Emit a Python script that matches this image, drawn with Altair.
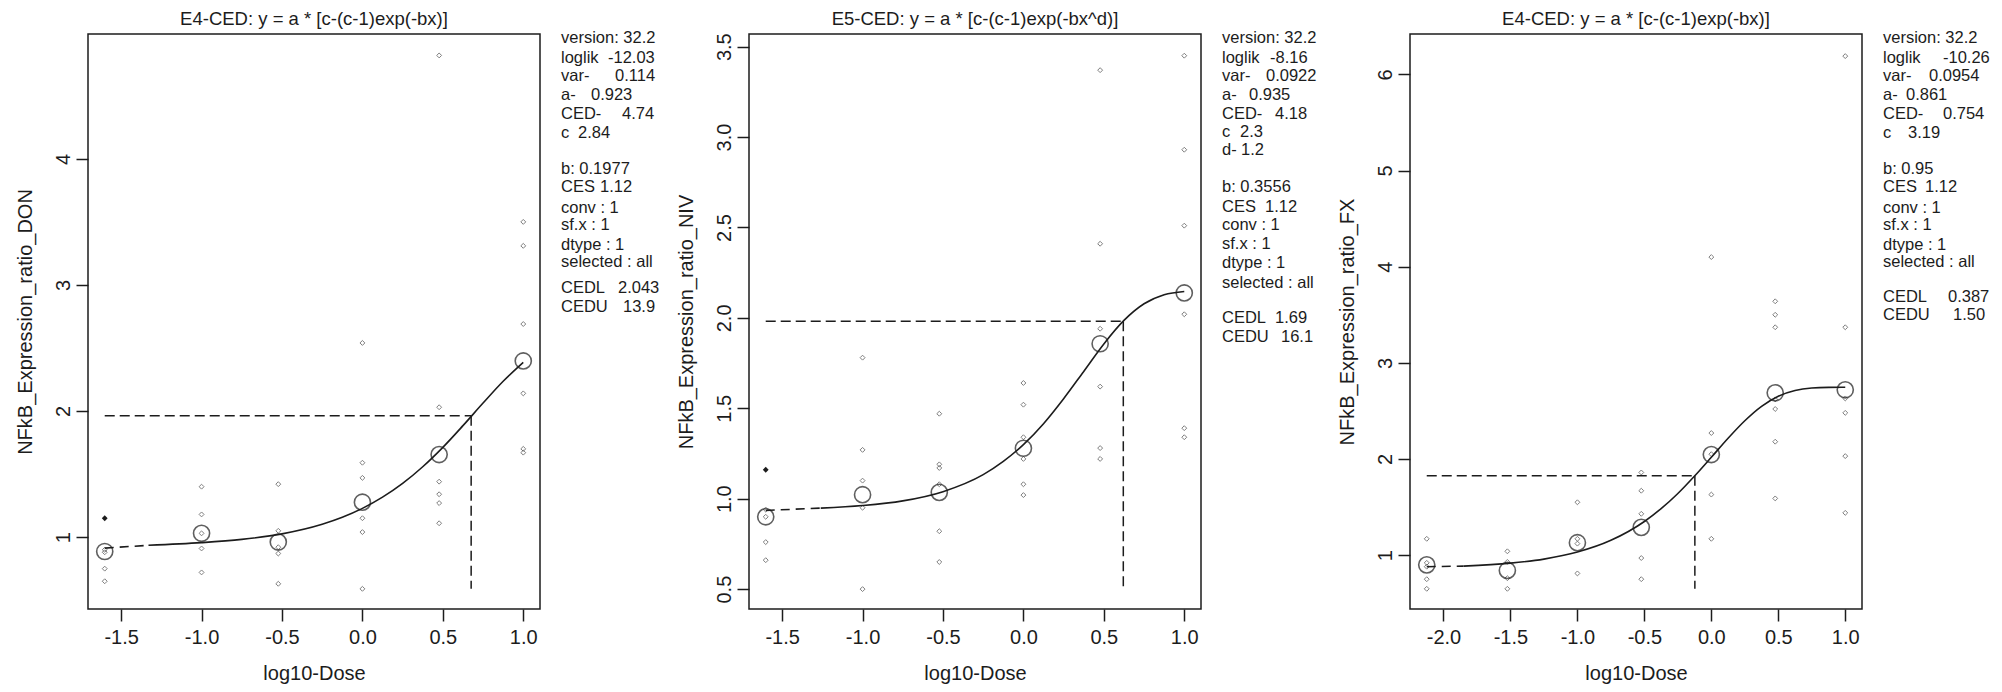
import altair as alt
import pandas as pd

FONT = "Liberation Sans"
INK = "#1c1c1c"
GREY = "#4a4a4a"
W = 452
H = 575

# ---------------- Panel 1: DON (E4-CED) ----------------
don_title = "E4-CED: y = a * [c-(c-1)exp(-bx)]"
don_doses = [-1.602, -1.0, -0.523, 0.0, 0.477, 1.0]
don_obs = [
    [0.90, 0.88, 0.75, 0.65],
    [1.40, 1.18, 1.03, 0.91, 0.72],
    [1.42, 1.05, 0.92, 0.87, 0.63],
    [2.54, 1.59, 1.47, 1.15, 1.04, 0.59],
    [4.82, 2.03, 1.44, 1.34, 1.27, 1.11],
    [3.50, 3.31, 2.69, 2.14, 1.70, 1.67],
]
don_means = [0.886, 1.030, 0.961, 1.277, 1.655, 2.397]
don_dark_x = [-1.602]
don_dark_y = [1.15]
don_dash_x = [-1.602, -1.33]
don_dash_y = [0.913, 0.935]
don_curve_x = [-1.33, -1.0, -0.75, -0.5, -0.25, -0.125, 0.0, 0.125, 0.25, 0.375, 0.5, 0.625, 0.75, 0.875, 1.0]
don_curve_y = [0.935, 0.956, 0.982, 1.026, 1.102, 1.157, 1.228, 1.317, 1.426, 1.558, 1.712, 1.884, 2.063, 2.236, 2.386]
don_ced = 0.676
don_ced_y = 1.962
don_ced_bottom = 0.59
don_info = [
    ("version: 32.2", "", 0), ("loglik", "-12.03", 47), ("var-", "0.114", 54),
    ("a-", "0.923", 30), ("CED-", "4.74", 61), ("c", "2.84", 17),
    ("b: 0.1977", "", 0), ("CES", "1.12", 39), ("conv : 1", "", 0),
    ("sf.x : 1", "", 0), ("dtype : 1", "", 0), ("selected : all", "", 0),
    ("CEDL", "2.043", 57), ("CEDU", "13.96", 62),
]
don_info_y = [37, 56.5, 75, 93.6, 112.6, 131.6, 167.8, 185.9, 206.6, 224.3, 243.7, 261.4, 287, 305.5]

# ---------------- Panel 2: NIV (E5-CED) ----------------
niv_title = "E5-CED: y = a * [c-(c-1)exp(-bx^d)]"
niv_doses = [-1.602, -1.0, -0.523, 0.0, 0.477, 1.0]
niv_obs = [
    [0.94, 0.90, 0.76, 0.66],
    [1.78, 1.27, 1.10, 0.95, 0.50],
    [1.47, 1.19, 1.17, 1.08, 0.82, 0.65],
    [1.64, 1.52, 1.34, 1.22, 1.08, 1.02],
    [3.37, 2.41, 1.94, 1.62, 1.28, 1.22],
    [3.45, 2.93, 2.51, 2.02, 1.39, 1.34],
]
niv_means = [0.900, 1.022, 1.035, 1.279, 1.857, 2.138]
niv_dark_x = [-1.602]
niv_dark_y = [1.16]
niv_dash_x = [-1.602, -1.26]
niv_dash_y = [0.935, 0.948]
niv_curve_x = [-1.26, -1.0, -0.75, -0.5, -0.25, -0.125, 0.0, 0.125, 0.25, 0.375, 0.5, 0.625, 0.75, 0.875, 1.0]
niv_curve_y = [0.948, 0.962, 0.988, 1.039, 1.133, 1.206, 1.299, 1.415, 1.553, 1.704, 1.856, 1.986, 2.078, 2.128, 2.146]
niv_ced = 0.621
niv_ced_y = 1.982
niv_ced_bottom = 0.50
niv_info = [
    ("version: 32.2", "", 0), ("loglik", "-8.16", 48), ("var-", "0.0922", 44),
    ("a-", "0.935", 27), ("CED-", "4.18", 53), ("c", "2.3", 18), ("d-", "1.2", 19),
    ("b: 0.3556", "", 0), ("CES", "1.12", 43), ("conv : 1", "", 0),
    ("sf.x : 1", "", 0), ("dtype : 1", "", 0), ("selected : all", "", 0),
    ("CEDL", "1.69", 53), ("CEDU", "16.19", 59),
]
niv_info_y = [37, 56.5, 75, 93.6, 112.6, 131, 149, 186, 206, 224, 243, 262, 282, 317, 336]

# ---------------- Panel 3: FX (E4-CED) ----------------
fx_title = "E4-CED: y = a * [c-(c-1)exp(-bx)]"
fx_doses = [-2.125, -1.523, -1.0, -0.523, 0.0, 0.477, 1.0]
fx_obs = [
    [1.17, 0.92, 0.88, 0.75, 0.65],
    [1.04, 0.93, 0.76, 0.65],
    [1.55, 1.17, 1.12, 0.81],
    [1.86, 1.67, 1.43, 0.97, 0.75],
    [4.10, 2.27, 2.05, 1.63, 1.17],
    [3.64, 3.50, 3.37, 2.62, 2.52, 2.18, 1.59],
    [6.19, 3.37, 2.63, 2.48, 2.03, 1.44],
]
fx_means = [0.899, 0.841, 1.130, 1.289, 2.046, 2.688, 2.720]
fx_dark_x = []
fx_dark_y = []
fx_dash_x = [-2.125, -1.85]
fx_dash_y = [0.880, 0.886]
fx_curve_x = [-1.85, -1.5, -1.25, -1.0, -0.75, -0.5, -0.375, -0.25, -0.125, 0.0, 0.125, 0.25, 0.375, 0.5, 0.625, 0.75, 0.875, 1.0]
fx_curve_y = [0.886, 0.917, 0.959, 1.032, 1.154, 1.350, 1.483, 1.641, 1.823, 2.018, 2.216, 2.398, 2.548, 2.653, 2.712, 2.738, 2.745, 2.746]
fx_ced = -0.123
fx_ced_y = 1.825
fx_ced_bottom = 0.65
fx_info = [
    ("version: 32.2", "", 0), ("loglik", "-10.26", 60), ("var-", "0.0954", 46),
    ("a-", "0.861", 23), ("CED-", "0.754", 60), ("c", "3.19", 25),
    ("b: 0.95", "", 0), ("CES", "1.12", 42), ("conv : 1", "", 0),
    ("sf.x : 1", "", 0), ("dtype : 1", "", 0), ("selected : all", "", 0),
    ("CEDL", "0.387", 65), ("CEDU", "1.505", 70),
]
fx_info_y = [37, 56.5, 75, 93.6, 112.6, 131.6, 167.8, 186, 207, 224.3, 243.7, 261.4, 296, 314]

TOP = 33  # page y of plot top
CUT = "\u200b"


def minus_expr(fmt):
    return ("datum.value < 0 ? '-' + format(-datum.value, '%s') : format(datum.value, '%s')" % (fmt, fmt))


def panel(title, ytitle, xdom, ydom, xticks, yticks, xfmt, yfmt,
          doses, obs, means, dark_x, dark_y, dash_x, dash_y, curve_x, curve_y,
          ced, ced_y, ced_bottom, info, info_y, text_limit):
    xs = alt.Scale(domain=xdom, nice=False, zero=False)
    ys = alt.Scale(domain=ydom, nice=False, zero=False)

    xaxis = alt.Axis(values=xticks, labelExpr=minus_expr(xfmt), title="log10-Dose",
                     grid=False, domain=False, tickSize=12, tickWidth=1.5, tickColor=INK,
                     labelFont=FONT, labelFontSize=20, labelColor=INK, labelPadding=6,
                     labelFlush=False, labelOverlap=False,
                     titleFont=FONT, titleFontSize=20, titleFontWeight="normal", titleColor=INK,
                     titleX=W / 2, titleY=70, titleBaseline="alphabetic", titleAlign="center")
    yaxis = alt.Axis(values=yticks, labelExpr=minus_expr(yfmt), title=ytitle,
                     grid=False, domain=False, tickSize=12, tickWidth=1.5, tickColor=INK,
                     labelFont=FONT, labelFontSize=20, labelColor=INK, labelPadding=7,
                     labelAngle=270, labelAlign="center", labelBaseline="alphabetic",
                     labelFlush=False, labelOverlap=False,
                     titleFont=FONT, titleFontSize=20, titleFontWeight="normal", titleColor=INK,
                     titleX=-57, titleY=H / 2, titleAngle=270, titleBaseline="alphabetic",
                     titleAlign="center")

    def X(field):
        return alt.X(field, type="quantitative", scale=xs, axis=xaxis)

    def Y(field):
        return alt.Y(field, type="quantitative", scale=ys, axis=yaxis)

    ox, oy = [], []
    for d, vals in zip(doses, obs):
        for v in vals:
            ox.append(d)
            oy.append(v)
    obs_df = pd.DataFrame({"x": ox, "y": oy})

    layers = []
    layers.append(alt.Chart(obs_df).mark_point(shape="diamond", size=24, filled=False,
                                               color=GREY, strokeWidth=1).encode(x=X("x"), y=Y("y")))
    mean_df = pd.DataFrame({"x": doses, "y": means})
    layers.append(alt.Chart(mean_df).mark_point(shape="circle", size=260, filled=False,
                                                color=INK, strokeWidth=1.6).encode(x=X("x"), y=Y("y")))
    if dark_x:
        dark_df = pd.DataFrame({"x": dark_x, "y": dark_y})
        layers.append(alt.Chart(dark_df).mark_point(shape="diamond", size=34, filled=True,
                                                    color=INK, opacity=1).encode(x=X("x"), y=Y("y")))
    dash_df = pd.DataFrame({"x": dash_x, "y": dash_y})
    layers.append(alt.Chart(dash_df).mark_line(color=INK, strokeWidth=1.6, strokeDash=[9, 6]).encode(
        x=X("x"), y=Y("y")))
    curve_df = pd.DataFrame({"x": curve_x, "y": curve_y})
    layers.append(alt.Chart(curve_df).mark_line(color=INK, strokeWidth=1.6,
                                                interpolate="monotone").encode(x=X("x"), y=Y("y")))
    ced_df = pd.DataFrame({"x1": [doses[0], ced], "x2": [ced, ced],
                           "y1": [ced_y, ced_y], "y2": [ced_y, ced_bottom]})
    layers.append(alt.Chart(ced_df).mark_rule(color=INK, strokeWidth=1.5, strokeDash=[10, 5]).encode(
        x=X("x1"), x2="x2:Q", y=Y("y1"), y2="y2:Q"))

    # panel title (as text, centred on the box)
    layers.append(alt.Chart(pd.DataFrame({"t": [title]})).mark_text(
        align="center", baseline="alphabetic", font=FONT, fontSize=18.5, color=INK).encode(
        x=alt.value(W / 2), y=alt.value(-9), text="t:N"))

    # parameter text block to the right of the box
    tx = W + 21
    for (lab, val, off), yy in zip(info, info_y):
        ypix = yy - TOP
        layers.append(alt.Chart(pd.DataFrame({"t": [lab]})).mark_text(
            align="left", baseline="middle", font=FONT, fontSize=16.5, color=INK,
            limit=text_limit, ellipsis=CUT).encode(
            x=alt.value(tx), y=alt.value(ypix), text="t:N"))
        if val:
            layers.append(alt.Chart(pd.DataFrame({"t": [val]})).mark_text(
                align="left", baseline="middle", font=FONT, fontSize=16.5, color=INK,
                limit=text_limit - off, ellipsis=CUT).encode(
                x=alt.value(tx + off), y=alt.value(ypix), text="t:N"))

    return alt.layer(*layers).properties(width=W, height=H)


p1 = panel(don_title, "NFkB_Expression_ratio_DON",
           [-1.706, 1.104], [0.43, 4.99], [-1.5, -1.0, -0.5, 0.0, 0.5, 1.0], [1, 2, 3, 4],
           ".1f", "d", don_doses, don_obs, don_means, don_dark_x, don_dark_y,
           don_dash_x, don_dash_y, don_curve_x, don_curve_y, don_ced, don_ced_y, don_ced_bottom,
           don_info, don_info_y, 100)
p2 = panel(niv_title, "NFkB_Expression_ratio_NIV",
           [-1.706, 1.104], [0.39, 3.57], [-1.5, -1.0, -0.5, 0.0, 0.5, 1.0],
           [0.5, 1.0, 1.5, 2.0, 2.5, 3.0, 3.5],
           ".1f", ".1f", niv_doses, niv_obs, niv_means, niv_dark_x, niv_dark_y,
           niv_dash_x, niv_dash_y, niv_curve_x, niv_curve_y, niv_ced, niv_ced_y, niv_ced_bottom,
           niv_info, niv_info_y, 100)
p3 = panel(fx_title, "NFkB_Expression_ratio_FX",
           [-2.25, 1.125], [0.44, 6.42], [-2.0, -1.5, -1.0, -0.5, 0.0, 0.5, 1.0], [1, 2, 3, 4, 5, 6],
           ".1f", "d", fx_doses, fx_obs, fx_means, fx_dark_x, fx_dark_y,
           fx_dash_x, fx_dash_y, fx_curve_x, fx_curve_y, fx_ced, fx_ced_y, fx_ced_bottom,
           fx_info, fx_info_y, 108)

chart = alt.hconcat(p1, p2, p3, spacing=209, bounds="flush").properties(
    padding={"left": 6, "top": 1, "right": 0, "bottom": 0},
    background="white",
).configure_view(stroke=INK, strokeWidth=1.5)

chart.save("out.html", embed_options={"renderer": "svg", "actions": False})
